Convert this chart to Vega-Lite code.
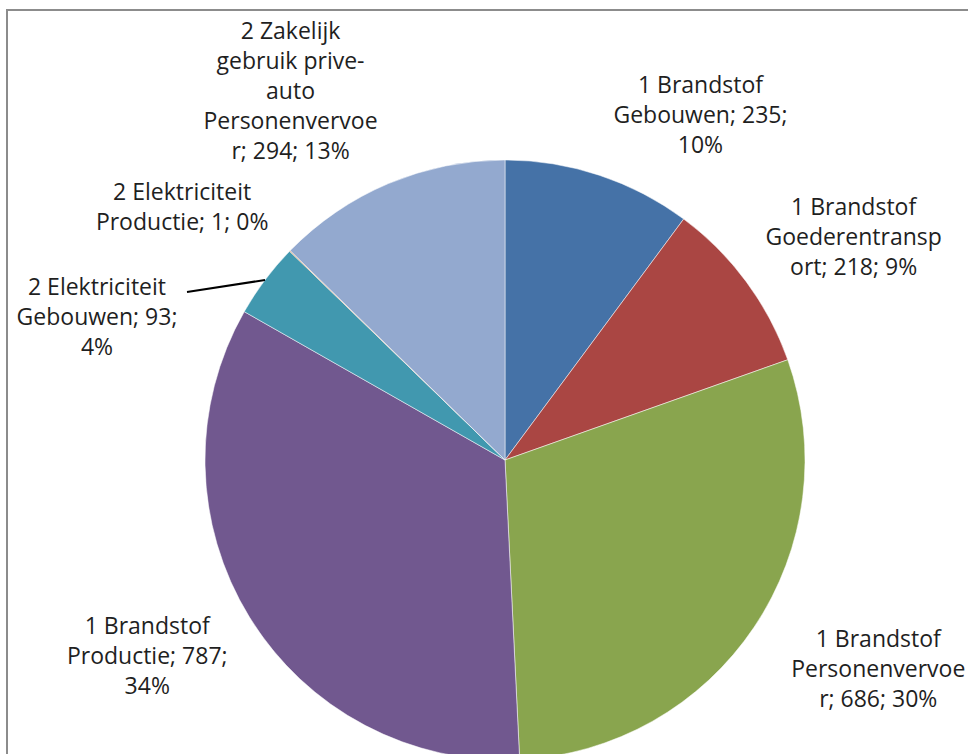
{
  "$schema": "https://vega.github.io/schema/vega-lite/v6.json",
  "width": 981,
  "height": 764,
  "autosize": {"type": "none"},
  "padding": {"left": 7, "top": 10, "right": -20, "bottom": -20},
  "background": "#ffffff",
  "config": {
    "view": {"stroke": "#8c8c8c", "strokeWidth": 2},
    "text": {"font": "Open Sans", "fontSize": 23, "color": "#1f1f1f", "align": "center", "baseline": "middle", "lineBreak": "\n", "lineHeight": 30}
  },
  "data": {
    "values": [
      {"idx": 1, "name": "1 Brandstof Gebouwen", "value": 235, "label": "1 Brandstof\nGebouwen; 235;\n10%"},
      {"idx": 2, "name": "1 Brandstof Goederentransport", "value": 218, "label": "1 Brandstof\nGoederentransp\nort; 218; 9%"},
      {"idx": 3, "name": "1 Brandstof Personenvervoer", "value": 686, "label": "1 Brandstof\nPersonenvervoe\nr; 686; 30%"},
      {"idx": 4, "name": "1 Brandstof Productie", "value": 787, "label": "1 Brandstof\nProductie; 787;\n34%"},
      {"idx": 5, "name": "2 Elektriciteit Gebouwen", "value": 93, "label": "2 Elektriciteit\nGebouwen; 93;\n4%"},
      {"idx": 6, "name": "2 Elektriciteit Productie", "value": 1, "label": "2 Elektriciteit\nProductie; 1; 0%"},
      {"idx": 7, "name": "2 Zakelijk gebruik prive-auto Personenvervoer", "value": 294, "label": "2 Zakelijk\ngebruik prive-\nauto\nPersonenvervoe\nr; 294; 13%"}
    ]
  },
  "transform": [
    {"window": [{"op": "sum", "field": "value", "as": "cum"}], "sort": [{"field": "idx"}], "frame": [null, 0]},
    {"joinaggregate": [{"op": "sum", "field": "value", "as": "total"}]},
    {"calculate": "datum.cum - datum.value / 2", "as": "mid"}
  ],
  "resolve": {"scale": {"x": "shared", "y": "shared"}},
  "layer": [
    {
      "mark": {"type": "arc", "outerRadius": 300, "stroke": "#ffffff", "strokeWidth": 1, "strokeOpacity": 0.5},
      "encoding": {
        "x": {"datum": 0, "type": "quantitative", "scale": {"domain": [-498, 483], "nice": false, "zero": false}, "axis": null},
        "y": {"datum": 0, "type": "quantitative", "scale": {"domain": [-314, 450], "nice": false, "zero": false}, "axis": null},
        "theta": {"field": "value", "type": "quantitative", "stack": true},
        "order": {"field": "idx", "type": "quantitative", "sort": "ascending"},
        "color": {
          "field": "name", "type": "nominal", "legend": null,
          "scale": {
            "domain": ["1 Brandstof Gebouwen", "1 Brandstof Goederentransport", "1 Brandstof Personenvervoer", "1 Brandstof Productie", "2 Elektriciteit Gebouwen", "2 Elektriciteit Productie", "2 Zakelijk gebruik prive-auto Personenvervoer"],
            "range": ["#4572A7", "#AA4643", "#89A54E", "#71588F", "#4198AF", "#DB843D", "#93A9CF"]
          }
        }
      }
    },
    {
      "transform": [
        {"filter": "datum.name === '2 Elektriciteit Gebouwen'"},
        {"calculate": "300 * sin(2 * PI * datum.mid / datum.total)", "as": "rx"},
        {"calculate": "300 * cos(2 * PI * datum.mid / datum.total)", "as": "ry"},
        {"calculate": "-318", "as": "lx"},
        {"calculate": "168", "as": "ly"}
      ],
      "mark": {"type": "rule", "color": "#000000", "strokeWidth": 2},
      "encoding": {
        "x": {"field": "lx", "type": "quantitative", "axis": null},
        "y": {"field": "ly", "type": "quantitative", "axis": null},
        "x2": {"field": "rx"},
        "y2": {"field": "ry"}
      }
    },
    {
      "transform": [{"filter": "datum.idx === 1"}],
      "mark": {"type": "text", "radius": 400, "dx": 70, "dy": 6},
      "encoding": {"x": {"datum": 0, "type": "quantitative"}, "y": {"datum": 0, "type": "quantitative"}, "theta": {"field": "mid", "type": "quantitative", "stack": null}, "text": {"field": "label", "type": "nominal"}}
    },
    {
      "transform": [{"filter": "datum.idx === 2"}],
      "mark": {"type": "text", "radius": 400, "dx": 27, "dy": -14},
      "encoding": {"x": {"datum": 0, "type": "quantitative"}, "y": {"datum": 0, "type": "quantitative"}, "theta": {"field": "mid", "type": "quantitative", "stack": null}, "text": {"field": "label", "type": "nominal"}}
    },
    {
      "transform": [{"filter": "datum.idx === 3"}],
      "mark": {"type": "text", "radius": 400, "dx": 41, "dy": -43},
      "encoding": {"x": {"datum": 0, "type": "quantitative"}, "y": {"datum": 0, "type": "quantitative"}, "theta": {"field": "mid", "type": "quantitative", "stack": null}, "text": {"field": "label", "type": "nominal"}}
    },
    {
      "transform": [{"filter": "datum.idx === 4"}],
      "mark": {"type": "text", "radius": 400, "dx": -17, "dy": -42},
      "encoding": {"x": {"datum": 0, "type": "quantitative"}, "y": {"datum": 0, "type": "quantitative"}, "theta": {"field": "mid", "type": "quantitative", "stack": null}, "text": {"field": "label", "type": "nominal"}}
    },
    {
      "transform": [{"filter": "datum.idx === 5"}],
      "mark": {"type": "text", "radius": 400, "dx": -88, "dy": 68},
      "encoding": {"x": {"datum": 0, "type": "quantitative"}, "y": {"datum": 0, "type": "quantitative"}, "theta": {"field": "mid", "type": "quantitative", "stack": null}, "text": {"field": "label", "type": "nominal"}}
    },
    {
      "transform": [{"filter": "datum.idx === 6"}],
      "mark": {"type": "text", "radius": 400, "dx": -36, "dy": 12},
      "encoding": {"x": {"datum": 0, "type": "quantitative"}, "y": {"datum": 0, "type": "quantitative"}, "theta": {"field": "mid", "type": "quantitative", "stack": null}, "text": {"field": "label", "type": "nominal"}}
    },
    {
      "transform": [{"filter": "datum.idx === 7"}],
      "mark": {"type": "text", "radius": 400, "dx": -59, "dy": -59},
      "encoding": {"x": {"datum": 0, "type": "quantitative"}, "y": {"datum": 0, "type": "quantitative"}, "theta": {"field": "mid", "type": "quantitative", "stack": null}, "text": {"field": "label", "type": "nominal"}}
    }
  ]
}
